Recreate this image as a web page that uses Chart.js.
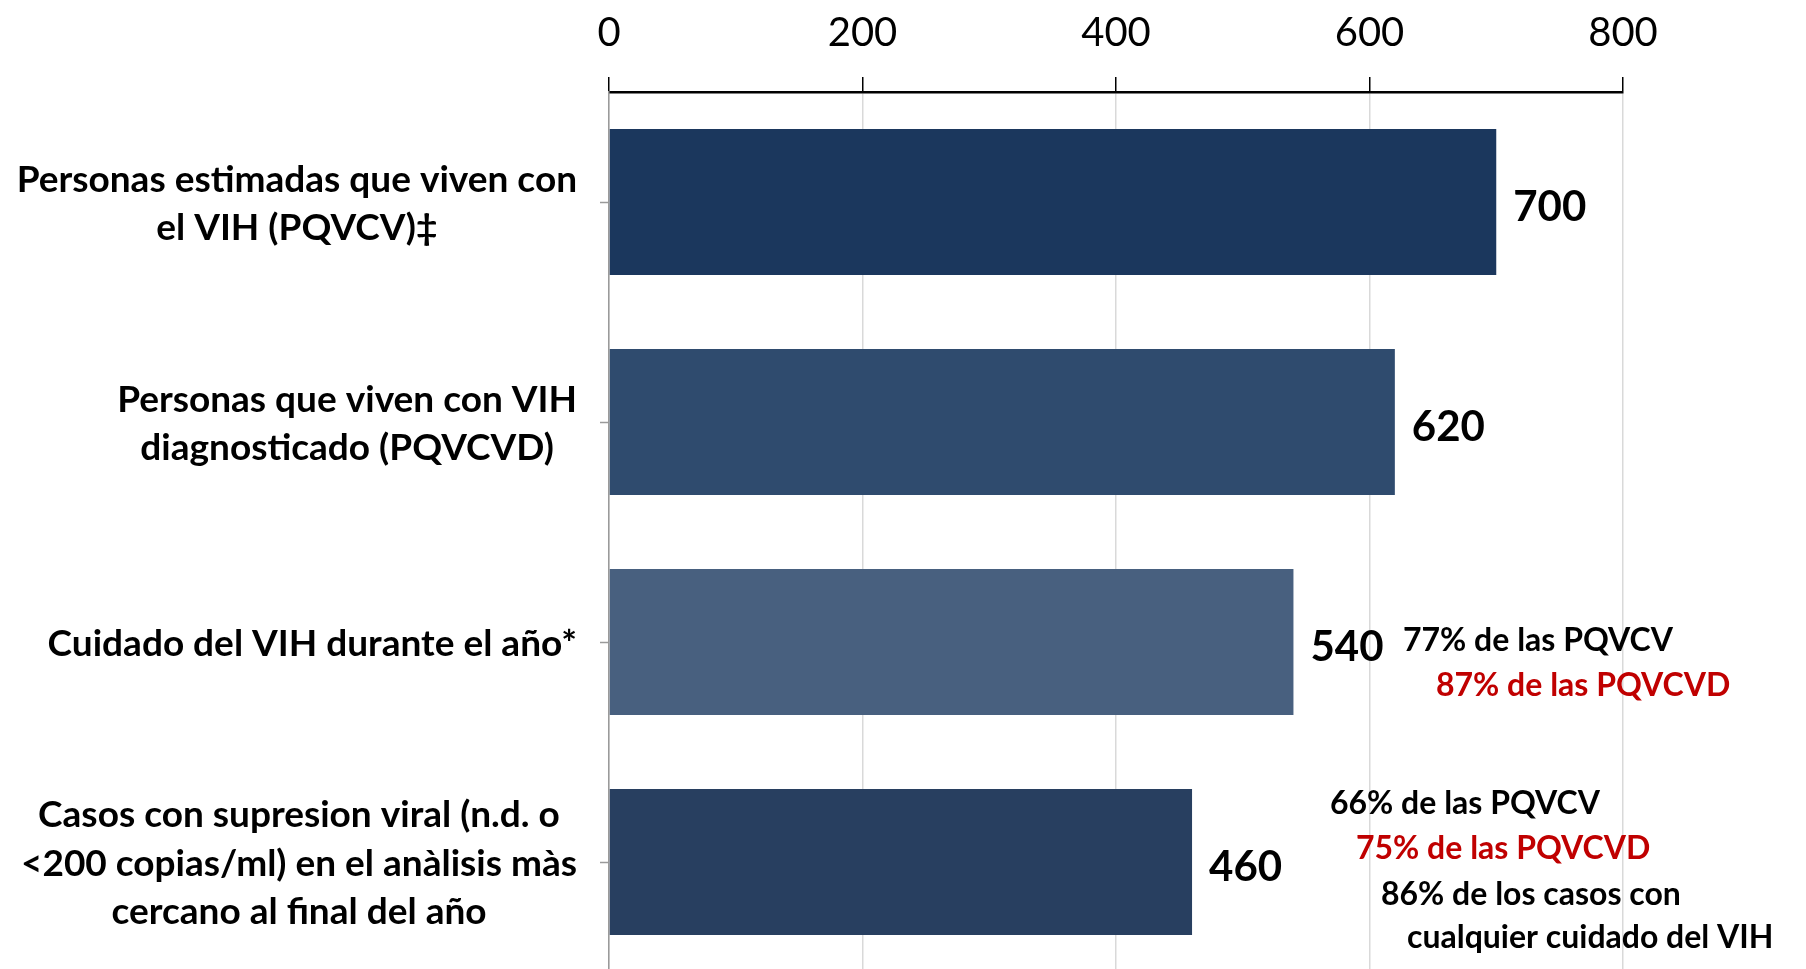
<!DOCTYPE html>
<html><head><meta charset="utf-8">
<script src="https://cdn.jsdelivr.net/npm/chart.js@4.4.0/dist/chart.umd.min.js"></script>
<style>html,body{margin:0;padding:0;background:#fff;overflow:hidden}#wrap{width:1806px;height:975px;position:relative}</style>
</head><body><div id="wrap"><canvas id="c"></canvas></div>
<script>
const categories = [
  ['Personas estimadas que viven con', 'el VIH (PQVCV)‡'],
  ['Personas que viven con VIH', 'diagnosticado (PQVCVD)'],
  ['Cuidado del VIH durante el año*'],
  ['Casos con supresion viral (n.d. o', '<200 copias/ml) en el anàlisis màs', 'cercano al final del año']
];
const values = [700, 620, 540, 460];
const barColors = ['#1b375d', '#2f4b6e', '#48607f', '#283f60'];
const axisMin = 0, axisMax = 800, axisStep = 200;
const notesCare = ['77% de las PQVCV', '87% de las PQVCVD'];
const notesSuppressed = ['66% de las PQVCV', '75% de las PQVCVD', '86% de los casos con', 'cualquier cuidado del VIH'];

const FONT = 'Lato, "Open Sans", sans-serif';
const RED = '#c00000';

const labelsPlugin = {
  id: 'customText',
  afterDraw(chart) {
    const ctx = chart.ctx;
    const ys = chart.scales.y;
    ctx.save();
    // category labels: block right-aligned, lines centred within block
    ctx.font = 'bold 37px ' + FONT;
    ctx.fillStyle = '#000';
    ctx.textBaseline = 'middle';
    ctx.textAlign = 'center';
    const right = ys.right - 32;
    const lh = 48.5;
    categories.forEach((lines, i) => {
      const cy = ys.getPixelForValue(i) + 2;
      const w = Math.max(...lines.map(l => ctx.measureText(l).width));
      const cx = right - w / 2;
      lines.forEach((l, j) => {
        ctx.fillText(l, cx, cy + (j - (lines.length - 1) / 2) * lh);
      });
    });
    // value labels
    ctx.font = 'bold 42px ' + FONT;
    ctx.textAlign = 'left';
    const meta = chart.getDatasetMeta(0);
    meta.data.forEach((bar, i) => {
      ctx.fillText(String(values[i]), bar.x + 17, bar.y + 5);
    });
    // notes
    ctx.font = 'bold 32px ' + FONT;
    const care = [[1403, -1, '#000'], [1436, 44, RED]];
    notesCare.forEach((t, k) => {
      ctx.fillStyle = care[k][2];
      ctx.fillText(t, care[k][0], ys.getPixelForValue(2) + care[k][1]);
    });
    const sup = [[1330, -58, '#000'], [1356, -13, RED], [1381, 33, '#000'], [1407, 76, '#000']];
    notesSuppressed.forEach((t, k) => {
      ctx.fillStyle = sup[k][2];
      ctx.fillText(t, sup[k][0], ys.getPixelForValue(3) + sup[k][1]);
    });
    ctx.restore();
  }
};

new Chart(document.getElementById('c'), {
  type: 'bar',
  data: {
    labels: categories,
    datasets: [{
      data: values,
      backgroundColor: barColors,
      borderWidth: 0,
      barPercentage: 1,
      categoryPercentage: 0.664
    }]
  },
  options: {
    indexAxis: 'y',
    responsive: true,
    maintainAspectRatio: false,
    animation: false,
    layout: { padding: { left: 0, right: 183, top: 0, bottom: 3 } },
    plugins: { legend: { display: false }, tooltip: { enabled: false } },
    scales: {
      x: {
        position: 'top',
        min: axisMin, max: axisMax,
        ticks: { stepSize: axisStep, color: '#000', font: { family: FONT, size: 40 }, padding: 20 },
        grid: { color: '#d9d9d9', lineWidth: 1.5, tickColor: '#000', tickLength: 15, tickWidth: 1.5 },
        border: { color: '#000', width: 2.5 },
        afterFit(s) { s.height = 92; }
      },
      y: {
        ticks: { display: false },
        grid: { drawOnChartArea: false, offset: false, tickLength: 9, color: '#9a9a9a', tickWidth: 1.5 },
        border: { color: '#9a9a9a', width: 1.5 },
        afterFit(s) { s.width = 609; }
      }
    }
  },
  plugins: [labelsPlugin]
});
</script>
</body></html>
